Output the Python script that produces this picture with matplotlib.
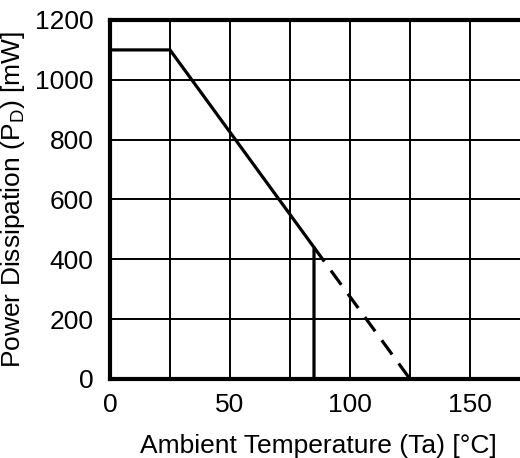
import matplotlib
matplotlib.use("Agg")
import matplotlib.pyplot as plt

plt.rcParams['font.family'] = ['Liberation Sans', 'DejaVu Sans']
plt.rcParams['mathtext.fontset'] = 'custom'
plt.rcParams['mathtext.rm'] = 'Liberation Sans'

# Derating curve: rated power up to 25 °C, linear derating to 0 at 125 °C
solid_temp = [0, 25, 85, 85]
solid_power = [1100, 1100, 440, 0]
dashed_temp = [85, 125]
dashed_power = [440, 0]

x_ticks = [0, 50, 100, 150]
y_ticks = [0, 200, 400, 600, 800, 1000, 1200]
x_grid = [0, 25, 50, 75, 100, 125, 150, 175]

fig = plt.figure(figsize=(5.2, 4.58), dpi=100)
ax = fig.add_axes([110 / 520, 1 - 379 / 458, 420 / 520, (379 - 20) / 458])

ax.set_xlim(0, 175)
ax.set_ylim(0, 1200)

for xv in x_grid[1:]:
    ax.axvline(xv, color='black', lw=1.4, zorder=1)
for yv in y_ticks[1:-1]:
    ax.axhline(yv, color='black', lw=1.4, zorder=1)

ax.plot(solid_temp, solid_power, color='black', lw=2.3, zorder=3,
        solid_joinstyle='miter')
ax.plot(dashed_temp, dashed_power, color='black', lw=2.3, zorder=3,
        linestyle=(0, (5.5, 3.5)))

ax.set_xticks(x_ticks)
ax.set_yticks(y_ticks)
ax.tick_params(length=0, labelsize=19, colors='black')
ax.tick_params(axis='x', pad=10)
ax.tick_params(axis='y', pad=12)

for side in ['left', 'bottom', 'top']:
    ax.spines[side].set_linewidth(3.0)
ax.spines['right'].set_visible(False)

ax.set_xlabel('Ambient Temperature (Ta) [°C]', fontsize=19)
ax.set_ylabel(r'Power Dissipation (P$_\mathregular{D}$) [mW]', fontsize=19)
ax.xaxis.set_label_coords(0.495, -0.152)
ax.yaxis.set_label_coords(-0.198, 0.5)

fig.savefig('out.png', dpi=100)
